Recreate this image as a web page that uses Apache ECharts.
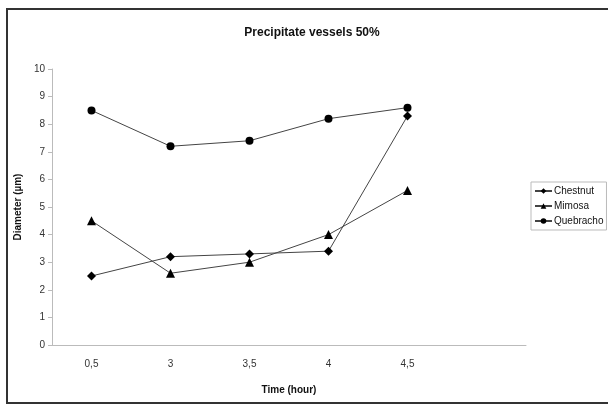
<!DOCTYPE html>
<html>
<head>
<meta charset="utf-8">
<title>Precipitate vessels 50%</title>
<script src="https://cdn.jsdelivr.net/npm/echarts@6/dist/echarts.min.js"></script>
<style>
  html, body { margin: 0; padding: 0; background: #fff; }
  #box { width: 608px; height: 405px; }
</style>
</head>
<body>
<div id="box"></div>
<script>
  // time categories (last slot is empty, as in the original plot)
  var timeLabels = ['0,5', '3', '3,5', '4', '4,5', '']
  var chestnut = [2.5, 3.2, 3.3, 3.4, 8.3]
  var mimosa = [4.5, 2.6, 3.0, 4.0, 5.6]
  var quebracho = [8.5, 7.2, 7.4, 8.2, 8.6]

  var font = 'Liberation Sans, Arial, sans-serif'
  var lineColor = '#444'

  function makeSeries(name, data, symbol, size) {
    return {
      name: name,
      type: 'line',
      data: data,
      symbol: symbol,
      symbolSize: size,
      lineStyle: { color: lineColor, width: 1 },
      itemStyle: { color: '#000' },
      animation: false
    }
  }

  var mCharts = echarts.init(document.querySelector('#box'))
  var option = {
    textStyle: { fontFamily: font },
    title: {
      text: 'Precipitate vessels 50%',
      left: 307,
      top: 22,
      textAlign: 'center',
      textStyle: { fontSize: 12, fontWeight: 'bold', color: '#111', fontFamily: font }
    },
    graphic: [{
      type: 'rect',
      // right edge of the frame is cropped off in the original
      shape: { x: 7, y: 9, width: 610, height: 394 },
      style: { fill: 'none', stroke: '#333', lineWidth: 2 }
    }],
    legend: {
      orient: 'vertical',
      left: 531,
      top: 182,
      padding: [4, 3, 4, 3],
      itemGap: 5,
      itemWidth: 17,
      itemHeight: 7,
      borderColor: '#bbb',
      borderWidth: 1,
      textStyle: { fontSize: 10, color: '#111', fontFamily: font, padding: [0, 0, 0, -3] },
      data: ['Chestnut', 'Mimosa', 'Quebracho']
    },
    grid: { left: 52, right: 82, top: 69, bottom: 60 },
    xAxis: {
      type: 'category',
      data: timeLabels,
      boundaryGap: true,
      name: 'Time (hour)',
      nameLocation: 'middle',
      nameGap: 40,
      nameTextStyle: { fontSize: 10, fontWeight: 'bold', color: '#111' },
      axisLine: { lineStyle: { color: '#bbb' } },
      axisTick: { length: 4, lineStyle: { color: '#bbb' } },
      axisLabel: { fontSize: 10, color: '#333', margin: 14 }
    },
    yAxis: {
      type: 'value',
      min: 0,
      max: 10,
      interval: 1,
      name: 'Diameter (µm)',
      nameLocation: 'middle',
      nameGap: 28,
      nameTextStyle: { fontSize: 10, fontWeight: 'bold', color: '#111' },
      axisLine: { show: true, lineStyle: { color: '#bbb' } },
      axisTick: { show: true, length: 4, lineStyle: { color: '#bbb' } },
      axisLabel: { fontSize: 10, color: '#333', margin: 7 },
      splitLine: { show: false }
    },
    series: [
      makeSeries('Chestnut', chestnut, 'diamond', 9),
      makeSeries('Mimosa', mimosa, 'triangle', 9),
      makeSeries('Quebracho', quebracho, 'circle', 8)
    ]
  }
  mCharts.setOption(option)
</script>
</body>
</html>
